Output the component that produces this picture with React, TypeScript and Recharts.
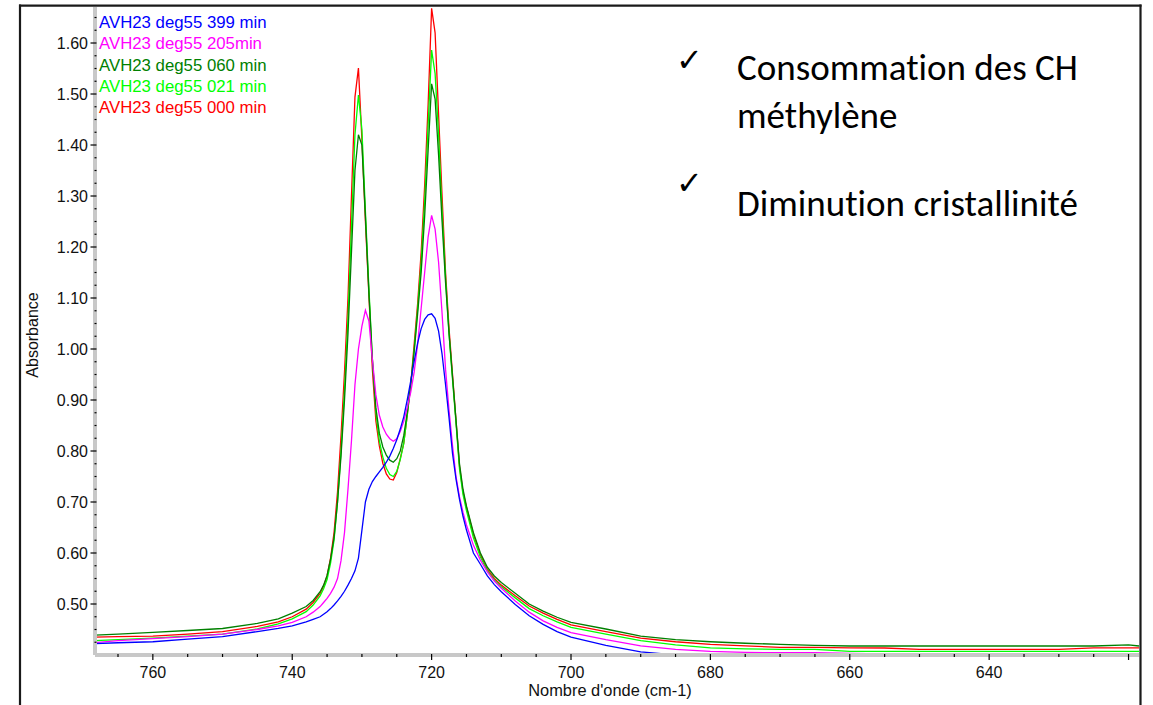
import React from 'react';
import { LineChart, Line, XAxis, YAxis, Legend } from 'recharts';

// Wavenumber grid (cm-1), high to low
const wavenumbers = [
  768.5, 765, 760, 755, 750, 745, 742, 740, 738, 737,
  736, 735.5, 735, 734.5, 734, 733.5, 733, 732.5, 732, 731.5,
  731, 730.5, 730, 729.5, 729, 728.5, 728, 727.5, 727, 726.5,
  726, 725.5, 725, 724.5, 724, 723.5, 723, 722.5, 722, 721.5,
  721, 720.5, 720, 719.5, 719, 718.5, 718, 717.5, 717, 716.5,
  716, 715.5, 715, 714, 713, 712, 711, 710, 708, 706,
  704, 702, 700, 695, 690, 685, 680, 675, 670, 665,
  660, 655, 650, 645, 640, 635, 630, 625, 620, 618.5,
];

// Absorbance, 399 min
const abs399 = [
  0.422, 0.424, 0.426, 0.431, 0.436, 0.446, 0.452, 0.457, 0.465, 0.470,
  0.475, 0.480, 0.485, 0.491, 0.498, 0.506, 0.515, 0.525, 0.537, 0.550,
  0.565, 0.590, 0.645, 0.700, 0.725, 0.740, 0.750, 0.759, 0.768, 0.778,
  0.790, 0.805, 0.822, 0.843, 0.867, 0.900, 0.937, 0.976, 1.012, 1.040,
  1.058, 1.067, 1.069, 1.060, 1.035, 0.990, 0.930, 0.865, 0.795, 0.745,
  0.705, 0.672, 0.645, 0.600, 0.578, 0.555, 0.538, 0.524, 0.499, 0.477,
  0.460, 0.446, 0.435, 0.419, 0.406, 0.400, 0.397, 0.396, 0.395, 0.395,
  0.394, 0.394, 0.393, 0.393, 0.393, 0.393, 0.393, 0.393, 0.393, 0.393,
];

// Absorbance, 205 min
const abs205 = [
  0.424, 0.428, 0.432, 0.436, 0.441, 0.450, 0.457, 0.464, 0.475, 0.484,
  0.495, 0.503, 0.511, 0.521, 0.533, 0.550, 0.585, 0.640, 0.725, 0.820,
  0.930, 1.000, 1.045, 1.076, 1.055, 0.980, 0.910, 0.870, 0.847, 0.833,
  0.824, 0.819, 0.824, 0.838, 0.858, 0.885, 0.915, 0.955, 1.010, 1.080,
  1.150, 1.220, 1.262, 1.235, 1.170, 1.070, 0.960, 0.880, 0.810, 0.750,
  0.710, 0.680, 0.655, 0.615, 0.586, 0.563, 0.545, 0.531, 0.506, 0.484,
  0.467, 0.454, 0.444, 0.430, 0.418, 0.411, 0.407, 0.405, 0.4045, 0.4045,
  0.403, 0.402, 0.401, 0.400, 0.399, 0.398, 0.398, 0.398, 0.398, 0.398,
];

// Absorbance, 060 min
const abs060 = [
  0.439, 0.441, 0.4445, 0.448, 0.452, 0.462, 0.471, 0.482, 0.495, 0.507,
  0.524, 0.537, 0.556, 0.588, 0.630, 0.700, 0.790, 0.900, 1.030, 1.190,
  1.350, 1.420, 1.400, 1.260, 1.110, 0.980, 0.885, 0.835, 0.808, 0.792,
  0.782, 0.778, 0.785, 0.800, 0.830, 0.875, 0.930, 0.995, 1.070, 1.150,
  1.260, 1.390, 1.520, 1.490, 1.380, 1.250, 1.130, 1.030, 0.945, 0.860,
  0.775, 0.725, 0.692, 0.640, 0.600, 0.572, 0.555, 0.542, 0.521, 0.500,
  0.486, 0.474, 0.464, 0.451, 0.437, 0.430, 0.426, 0.423, 0.421, 0.419,
  0.4176, 0.4176, 0.4176, 0.4176, 0.4176, 0.4176, 0.4176, 0.4176, 0.420, 0.4176,
];

// Absorbance, 021 min
const abs021 = [
  0.428, 0.430, 0.433, 0.437, 0.441, 0.451, 0.461, 0.471, 0.485, 0.498,
  0.516, 0.530, 0.548, 0.580, 0.625, 0.700, 0.800, 0.920, 1.060, 1.240,
  1.420, 1.498, 1.430, 1.270, 1.120, 0.980, 0.875, 0.820, 0.788, 0.766,
  0.754, 0.750, 0.760, 0.783, 0.815, 0.870, 0.930, 1.000, 1.080, 1.170,
  1.290, 1.440, 1.586, 1.540, 1.420, 1.270, 1.140, 1.030, 0.940, 0.855,
  0.765, 0.715, 0.683, 0.630, 0.592, 0.565, 0.547, 0.534, 0.512, 0.491,
  0.477, 0.465, 0.454, 0.441, 0.428, 0.420, 0.414, 0.412, 0.411, 0.411,
  0.4073, 0.4073, 0.4073, 0.4073, 0.4073, 0.4073, 0.4073, 0.4073, 0.4073, 0.4073,
];

// Absorbance, 000 min
const abs000 = [
  0.435, 0.436, 0.437, 0.441, 0.446, 0.456, 0.465, 0.475, 0.490, 0.503,
  0.521, 0.535, 0.555, 0.590, 0.640, 0.720, 0.830, 0.955, 1.100, 1.300,
  1.494, 1.551, 1.410, 1.250, 1.106, 0.960, 0.859, 0.810, 0.776, 0.755,
  0.745, 0.743, 0.758, 0.785, 0.815, 0.870, 0.930, 1.010, 1.090, 1.190,
  1.320, 1.480, 1.668, 1.620, 1.460, 1.300, 1.150, 1.040, 0.950, 0.860,
  0.770, 0.720, 0.690, 0.636, 0.596, 0.568, 0.550, 0.537, 0.516, 0.496,
  0.482, 0.470, 0.459, 0.446, 0.433, 0.426, 0.421, 0.418, 0.415, 0.415,
  0.414, 0.4137, 0.411, 0.411, 0.411, 0.411, 0.411, 0.414, 0.414, 0.414,
];

const seriesNames = [
  'AVH23 deg55 399 min',
  'AVH23 deg55 205min',
  'AVH23 deg55 060 min',
  'AVH23 deg55 021 min',
  'AVH23 deg55 000 min',
];

// Axis ticks
const xTicks = [
  620, 625, 630, 635, 640, 645, 650, 655, 660, 665, 670, 675, 680, 685, 690,
  695, 700, 705, 710, 715, 720, 725, 730, 735, 740, 745, 750, 755, 760, 765,
];
const xMajorTicks = [620, 640, 660, 680, 700, 720, 740, 760];
const xTickLabels = [640, 660, 680, 700, 720, 740, 760];

const yTicks = [
  0.425, 0.45, 0.475, 0.5, 0.525, 0.55, 0.575, 0.6, 0.625, 0.65, 0.675, 0.7,
  0.725, 0.75, 0.775, 0.8, 0.825, 0.85, 0.875, 0.9, 0.925, 0.95, 0.975, 1.0,
  1.025, 1.05, 1.075, 1.1, 1.125, 1.15, 1.175, 1.2, 1.225, 1.25, 1.275, 1.3,
  1.325, 1.35, 1.375, 1.4, 1.425, 1.45, 1.475, 1.5, 1.525, 1.55, 1.575, 1.6,
  1.625, 1.65,
];
const yTickLabels = [0.5, 0.6, 0.7, 0.8, 0.9, 1.0, 1.1, 1.2, 1.3, 1.4, 1.5, 1.6];

const seriesKeys = ['s399', 's205', 's060', 's021', 's000'];
const seriesValues = [abs399, abs205, abs060, abs021, abs000];
const seriesColors = ['#0000ff', '#ff00ff', '#008000', '#00ff00', '#ff0000'];

const data = wavenumbers.map((wn, i) => {
  const row: Record<string, number> = { wn };
  seriesKeys.forEach((k, s) => {
    row[k] = seriesValues[s][i];
  });
  return row;
});

const AXIS_FONT = '"Liberation Sans", Arial, sans-serif';

const XTick = (props: any) => {
  const { x, y, payload } = props;
  const v = payload.value as number;
  const major = xMajorTicks.includes(v);
  return (
    <g>
      <line x1={x} x2={x} y1={y - 1} y2={y + (major ? 5 : 2)} stroke="#000" strokeWidth={1.2} />
      {xTickLabels.includes(v) && (
        <text x={x} y={y + 23} textAnchor="middle" fontSize={16} fontFamily={AXIS_FONT} fill="#111">
          {v}
        </text>
      )}
    </g>
  );
};

const YTick = (props: any) => {
  const { x, y, payload } = props;
  const v = payload.value as number;
  const labelled = yTickLabels.some((t) => Math.abs(t - v) < 1e-6);
  return (
    <g>
      <line x1={labelled ? x - 4.5 : x - 0.5} x2={x + 1.5} y1={y} y2={y} stroke="#000" strokeWidth={1.2} />
      {labelled && (
        <text x={x - 7} y={y + 5.5} textAnchor="end" fontSize={16} fontFamily={AXIS_FONT} fill="#111">
          {v.toFixed(2)}
        </text>
      )}
    </g>
  );
};

const SeriesLegend = () => (
  <div style={{ fontFamily: AXIS_FONT, fontSize: 16.8, lineHeight: '21.3px', whiteSpace: 'nowrap' }}>
    {seriesNames.map((n, i) => (
      <div key={n} style={{ color: seriesColors[i] }}>
        {n}
      </div>
    ))}
  </div>
);

const NOTE_FONT = 'Carlito, Calibri, Lato, sans-serif';
const CHECK_FONT = 'DejaVu Sans';

export default function App() {
  return (
    <div style={{ position: 'absolute', left: 0, top: 0, width: 1153, height: 705, background: '#fff', overflow: 'hidden' }}>
      <LineChart
        width={1153}
        height={705}
        data={data}
        margin={{ top: 7, right: 14, bottom: 0, left: 0 }}
      >
        <XAxis
          dataKey="wn"
          type="number"
          domain={[618.5, 768.3]}
          reversed
          allowDataOverflow
          ticks={xTicks}
          interval={0}
          height={50}
          tickSize={0}
          tickMargin={0}
          tickLine={false}
          axisLine={{ stroke: '#c8c8c8', strokeWidth: 4 }}
          tick={<XTick />}
          label={{
            value: "Nombre d'onde (cm-1)",
            position: 'insideBottom',
            offset: 9,
            dx: -7,
            fontSize: 16.4,
            fontFamily: AXIS_FONT,
            fill: '#111',
          }}
        />
        <YAxis
          type="number"
          domain={[0.4, 1.6706]}
          allowDataOverflow
          ticks={yTicks}
          interval={0}
          width={95}
          tickSize={0}
          tickMargin={0}
          tickLine={false}
          axisLine={{ stroke: '#c8c8c8', strokeWidth: 4 }}
          tick={<YTick />}
          label={{
            value: 'Absorbance',
            angle: -90,
            position: 'insideLeft',
            offset: 32,
            dy: 4,
            fontSize: 16,
            fontFamily: AXIS_FONT,
            fill: '#111',
            style: { textAnchor: 'middle' },
          }}
        />
        <Legend
          layout="vertical"
          align="center"
          verticalAlign="middle"
          content={<SeriesLegend />}
          wrapperStyle={{ left: 99, top: 12, width: 'auto', height: 'auto' }}
        />
        {[4, 3, 2, 1, 0].map((s) => (
          <Line
            key={seriesKeys[s]}
            type="linear"
            dataKey={seriesKeys[s]}
            name={seriesNames[s]}
            stroke={seriesColors[s]}
            strokeWidth={1.3}
            dot={false}
            activeDot={false}
            isAnimationActive={false}
          />
        ))}
      </LineChart>
      <svg
        width={1153}
        height={705}
        style={{ position: 'absolute', left: 0, top: 0, pointerEvents: 'none' }}
      >
        <line x1={20} x2={20} y1={4.5} y2={705} stroke="#1a1a1a" strokeWidth={2.2} />
        <line x1={19} x2={1141.5} y1={5.6} y2={5.6} stroke="#1a1a1a" strokeWidth={2.2} />
        <line x1={1140.5} x2={1140.5} y1={4.5} y2={705} stroke="#1a1a1a" strokeWidth={2.2} />
        <g fontFamily={NOTE_FONT} fill="#000" style={{ fontVariantLigatures: 'none' }}>
          <text x={676} y={71} fontSize={32} fontFamily={CHECK_FONT}>✓</text>
          <text x={737} y={80} fontSize={37}>Consommation des CH</text>
          <text x={737} y={128} fontSize={37}>méthylène</text>
          <text x={676} y={194} fontSize={32} fontFamily={CHECK_FONT}>✓</text>
          <text x={737} y={216} fontSize={37}>Diminution cristallinité</text>
        </g>
      </svg>
    </div>
  );
}
